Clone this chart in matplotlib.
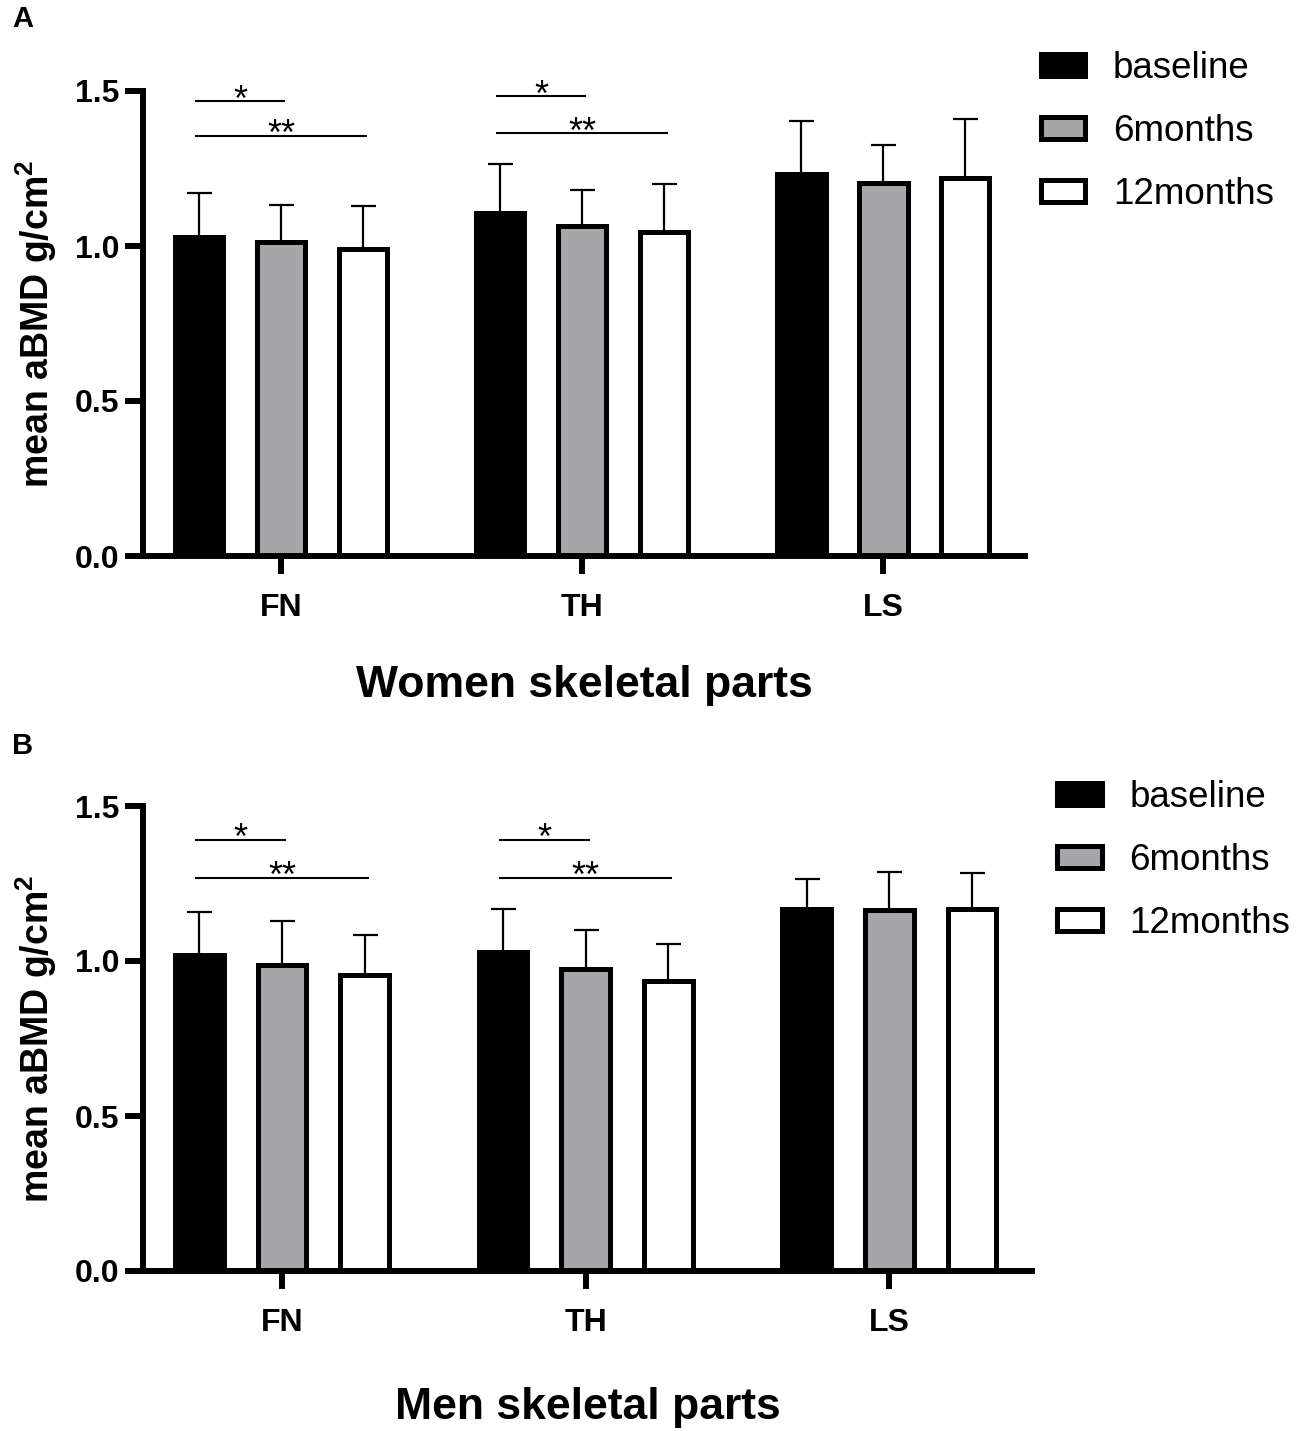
import numpy as np
import matplotlib
matplotlib.use('Agg')
import matplotlib.pyplot as plt

plt.rcParams['font.family'] = ['Liberation Sans', 'DejaVu Sans']
plt.rcParams['mathtext.fontset'] = 'custom'
plt.rcParams['mathtext.rm'] = 'Liberation Sans'
plt.rcParams['mathtext.bf'] = 'Liberation Sans:bold'

sites = ['FN', 'TH', 'LS']
timepoints = ['baseline', '6months', '12months']
bar_colors = ['black', '#a6a5aa', 'white']

# women, mean aBMD and SD
women_base = [1.030, 1.105, 1.231]
women_base_sd = [0.142, 0.158, 0.172]
women_6m = [1.013, 1.064, 1.204]
women_6m_sd = [0.118, 0.118, 0.122]
women_12m = [0.989, 1.045, 1.220]
women_12m_sd = [0.139, 0.154, 0.190]

# men (panel B)
men_base = [1.019, 1.030, 1.167]
men_base_sd = [0.140, 0.137, 0.099]
men_6m = [0.987, 0.973, 1.163]
men_6m_sd = [0.143, 0.128, 0.123]
men_12m = [0.954, 0.937, 1.169]
men_12m_sd = [0.129, 0.118, 0.116]

# significance brackets: (site, bar i, bar j, height, label)
women_sig = [(0, 0, 1, 1.467, '*'), (0, 0, 2, 1.356, '**'),
             (1, 0, 1, 1.483, '*'), (1, 0, 2, 1.364, '**')]
men_sig = [(0, 0, 1, 1.391, '*'), (0, 0, 2, 1.268, '**'),
           (1, 0, 1, 1.391, '*'), (1, 0, 2, 1.268, '**')]

W, H = 1299, 1431
fig = plt.figure(figsize=(W / 100, H / 100), dpi=100)


def draw_panel(rect, means, sds, sig, xlabel, xlab_y, legend_xy):
    ax = fig.add_axes(rect)
    x = np.arange(len(sites))
    step, width = 0.272, 0.16
    offsets = (np.arange(3) - 1) * step

    handles = []
    for k in range(3):
        ax.errorbar(x + offsets[k], means[k], yerr=[np.zeros(3), sds[k]], fmt='none',
                    ecolor='black', elinewidth=1.6, capsize=9, capthick=1.6, zorder=1)
        b = ax.bar(x + offsets[k], means[k], width, color=bar_colors[k], edgecolor='black',
                   linewidth=3.6, label=timepoints[k], zorder=2)
        handles.append(b)

    for site, i, j, h, txt in sig:
        x0 = x[site] + offsets[i] - 0.01
        x1 = x[site] + offsets[j] + 0.01
        ax.plot([x0, x1], [h, h], color='black', lw=1.5)
        # asterisk glyph sits high in the em box, so anchor the baseline just under the line
        ax.text((x0 + x1) / 2, h - 0.03, txt, ha='center', va='baseline', fontsize=26)

    ax.set_ylim(0, 1.5)
    ax.set_xlim(-0.458, 2.47)
    for s in ['top', 'right']:
        ax.spines[s].set_visible(False)
    for s in ['left', 'bottom']:
        ax.spines[s].set_linewidth(4.3)
        ax.spines[s].set_capstyle('projecting')

    ax.set_xticks(x, sites, fontweight='bold', fontsize=23)
    yt = [0, 0.5, 1.0, 1.5]
    ax.set_yticks(yt, ['%.1f' % v for v in yt], fontweight='bold', fontsize=23)
    ax.tick_params(axis='both', width=4.3, length=13)
    ax.tick_params(axis='x', pad=13.5)
    ax.tick_params(axis='y', pad=4)

    ax.set_ylabel(r'mean aBMD g/cm$^{\mathbf{2}}$', fontsize=27, fontweight='bold', labelpad=11)
    ax.set_xlabel(xlabel, fontsize=32, fontweight='bold')
    ax.xaxis.set_label_coords(0.5, xlab_y)

    ax.legend(handles=handles, loc='upper left', bbox_to_anchor=legend_xy,
              bbox_transform=fig.transFigure, frameon=False, fontsize=26.5,
              borderpad=0, borderaxespad=0, handlelength=1.22, handleheight=0.54,
              handletextpad=0.75, labelspacing=0.76)
    return ax


top_rect = [143 / W, 1 - 556 / H, (1025 - 143) / W, (556 - 91) / H]
bot_rect = [143 / W, 1 - 1271 / H, (1032 - 143) / W, (1271 - 806) / H]

draw_panel(top_rect, [women_base, women_6m, women_12m],
           [women_base_sd, women_6m_sd, women_12m_sd], women_sig,
           'Women skeletal parts', -0.234, (1040.5 / W, 1 - 51 / H))
draw_panel(bot_rect, [men_base, men_6m, men_12m],
           [men_base_sd, men_6m_sd, men_12m_sd], men_sig,
           'Men skeletal parts', -0.249, (1057 / W, 1 - 780 / H))

fig.text(12 / W, 1 - 5 / H, 'A', fontsize=21, fontweight='bold', ha='left', va='top')
fig.text(12 / W, 1 - 732 / H, 'B', fontsize=21, fontweight='bold', ha='left', va='top')

fig.savefig('out.png', dpi=100)
